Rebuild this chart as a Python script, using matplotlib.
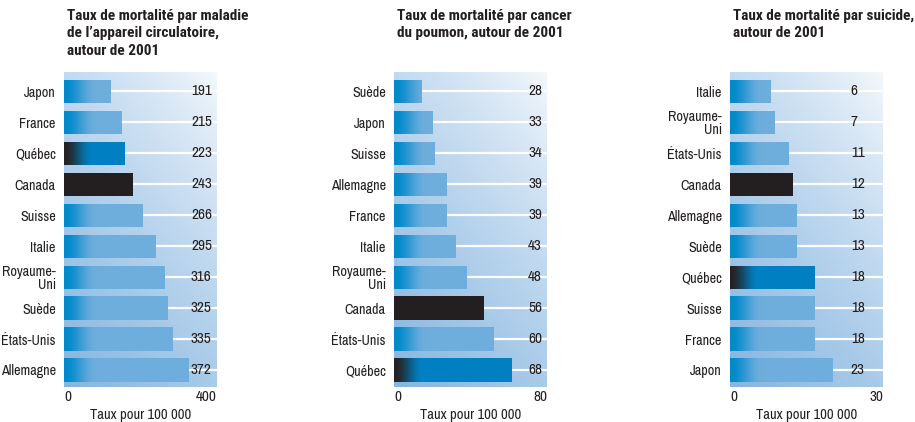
import numpy as np
import matplotlib
matplotlib.use("Agg")
import matplotlib.pyplot as plt
from matplotlib.colors import to_rgb

plt.rcParams['font.family'] = ['Archivo Narrow', 'DejaVu Sans']
TITLE_FONT = ['Roboto Condensed', 'Archivo Narrow', 'DejaVu Sans']

# ---------------- data ----------------
titles = [
    "Taux de mortalité par maladie\nde l’appareil circulatoire,\nautour de 2001",
    "Taux de mortalité par cancer\ndu poumon, autour de 2001",
    "Taux de mortalité par suicide,\nautour de 2001",
]
circ_countries = ["Japon", "France", "Québec", "Canada", "Suisse", "Italie",
                  "Royaume-\nUni", "Suède", "États-Unis", "Allemagne"]
circ_values = [191, 215, 223, 243, 266, 295, 316, 325, 335, 372]

lung_countries = ["Suède", "Japon", "Suisse", "Allemagne", "France", "Italie",
                  "Royaume-\nUni", "Canada", "États-Unis", "Québec"]
lung_values = [28, 33, 34, 39, 39, 43, 48, 56, 60, 68]

suic_countries = ["Italie", "Royaume-\nUni", "États-Unis", "Canada", "Allemagne",
                  "Suède", "Québec", "Suisse", "France", "Japon"]
suic_values = [6, 7, 11, 12, 13, 13, 18, 18, 18, 23]

axis_min_labels = ["0", "0", "0"]
axis_max_labels = ["400", "80", "30"]
xlabel = "Taux pour 100 000"

# ---------------- style ----------------
W, H = 915, 422
fig = plt.figure(figsize=(W / 100, H / 100), dpi=100)
fig.patch.set_facecolor("white")

ax_left_px = [64, 394, 730]
ax_w_px = 153
ax_top_px, ax_bot_px = 72, 387
# display view of each panel (value range shown across the panel width)
views = [(81, 440), (15.8, 84.0), (-5.15, 36.8)]
value_x_frac = [0.83, 0.876, 0.79]

text_col = "#231f20"
bar_dark = np.array(to_rgb("#0089cb"))
bar_light = np.array(to_rgb("#6eaedd"))
qc_dark = np.array(to_rgb("#262223"))
qc_blue = np.array(to_rgb("#0080c2"))
canada_col = "#231f20"
bg_light = np.array(to_rgb("#f6f9fd"))
bg_dark = np.array(to_rgb("#85b5e0"))
FS = 10.2

panels = [(circ_countries, circ_values), (lung_countries, lung_values),
          (suic_countries, suic_values)]

bar_h = 0.75
for i, (countries, values) in enumerate(panels):
    ax = fig.add_axes([ax_left_px[i] / W, 1 - ax_bot_px / H,
                       ax_w_px / W, (ax_bot_px - ax_top_px) / H])
    x0, x1 = views[i]
    n = len(values)
    ylo, yhi = n - 1 + 0.55, -0.63

    # background gradient
    gx, gy = np.meshgrid(np.linspace(0, 1, 200), np.linspace(1, 0, 200))
    t = np.clip(0.62 * (1 - gy) + 0.38 * (1 - gx), 0, 1) ** 0.8
    bg = bg_light[None, None, :] * (1 - t[..., None]) + bg_dark[None, None, :] * t[..., None]
    ax.imshow(bg, extent=(x0, x1, ylo, yhi), aspect="auto", zorder=0,
              interpolation="bilinear")

    units_per_px = (x1 - x0) / ax_w_px
    for j, (c, v) in enumerate(zip(countries, values)):
        ax.axhline(j, color="white", lw=1.6, zorder=1)
        width = v - x0
        if c == "Canada":
            ax.barh(j, width, left=x0, height=bar_h, color=canada_col, zorder=3)
        else:
            if c == "Québec":
                c0, c1, trans = qc_dark, qc_blue, 28
            else:
                c0, c1, trans = bar_dark, bar_light, 32
            xs = np.linspace(x0, v, 300)
            tt = np.clip((xs - x0) / (trans * units_per_px), 0, 1)
            tt = tt * tt * (3 - 2 * tt)
            img = c0[None, :] * (1 - tt[:, None]) + c1[None, :] * tt[:, None]
            bar = ax.barh(j, width, left=x0, height=bar_h, color="none",
                          zorder=3)[0]
            im = ax.imshow(img[None, :, :], extent=(x0, v, j + bar_h / 2, j - bar_h / 2),
                           aspect="auto", zorder=3, interpolation="bilinear")
            im.set_clip_path(bar)
        ax.text(value_x_frac[i], j, str(v), transform=ax.get_yaxis_transform(),
                ha="left", va="center", fontsize=11, color=text_col, zorder=5)

    ax.set_xlim(x0, x1)
    ax.set_ylim(ylo, yhi)
    ax.set_yticks(range(n), labels=countries)
    ax.tick_params(axis="y", length=0, pad=6, labelsize=FS, labelcolor=text_col)
    for lab in ax.get_yticklabels():
        lab.set_linespacing(0.95)
    ax.set_xticks([])
    for s in ax.spines.values():
        s.set_visible(False)

    off = (ax_bot_px - ax_top_px)
    ax.text(0, -10 / off, axis_min_labels[i], transform=ax.transAxes,
            ha="left", va="center", fontsize=11, color=text_col)
    ax.text(1, -10 / off, axis_max_labels[i], transform=ax.transAxes,
            ha="right", va="center", fontsize=11, color=text_col)
    ax.text(0.5, -28 / off, xlabel, transform=ax.transAxes,
            ha="center", va="center", fontsize=FS + 0.3, color=text_col)

    fig.text((ax_left_px[i] + 3) / W, 1 - 9 / H, titles[i], ha="left", va="top",
             fontsize=11, fontweight="bold", color=text_col, linespacing=1.3,
             family=TITLE_FONT)

fig.savefig("out.png", dpi=100)
